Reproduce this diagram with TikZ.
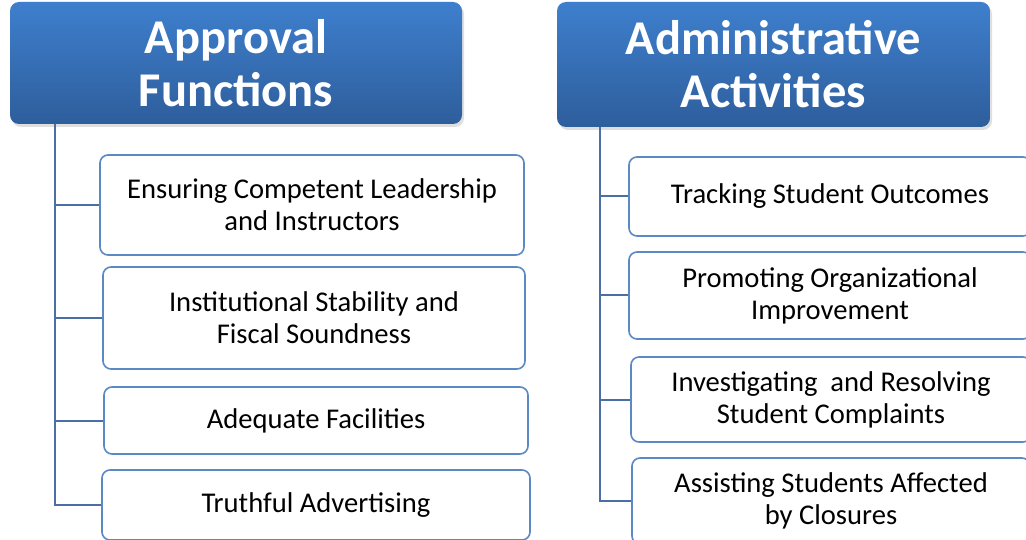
\documentclass[tikz,border=0pt]{standalone}
\usepackage{fontspec}
\setmainfont{Carlito}
\usetikzlibrary{shadows}
\definecolor{hdtop}{HTML}{3E7FCD}
\definecolor{hdbot}{HTML}{2E5E9C}
\definecolor{boxline}{HTML}{5B89C4}
\definecolor{conline}{HTML}{4A6FA5}
\tikzset{
  header/.style={rounded corners=9pt, top color=hdtop, bottom color=hdbot, draw=none,
    text=white, font=\fontsize{48.5}{53}\selectfont\bfseries, align=center, inner sep=0pt,
    drop shadow={opacity=0.25, shadow xshift=2pt, shadow yshift=-3pt}},
  item/.style={rounded corners=8pt, draw=boxline, line width=1.6pt, fill=white,
    font=\fontsize{28.6}{32}\selectfont, align=center, inner sep=0pt, text=black},
  conn/.style={draw=conline, line width=2pt}
}
\begin{document}
\begin{tikzpicture}[x=1pt,y=-1pt]
\useasboundingbox[fill=white] (0,0) rectangle (1026,540);
% left column
\node[header, minimum width=452pt, minimum height=122pt] (L0) at (236,63) {Approval\\Functions};
\node[item, minimum width=424pt, minimum height=100pt] (L1) at (312,205) {Ensuring Competent Leadership\\and Instructors};
\node[item, minimum width=422pt, minimum height=102pt] (L2) at (314,318) {Institutional Stability and\\Fiscal Soundness};
\node[item, minimum width=424pt, minimum height=67pt] (L3) at (316,420.5) {Adequate Facilities};
\node[item, minimum width=428pt, minimum height=70pt] (L4) at (316,505) {Truthful Advertising};
\coordinate (lt) at (55,124);
\draw[conn] (lt) -- (lt |- L4.west) -- (L4.west);
\draw[conn] (lt |- L1.west) -- (L1.west);
\draw[conn] (lt |- L2.west) -- (L2.west);
\draw[conn] (lt |- L3.west) -- (L3.west);
% right column
\node[header, minimum width=433pt, minimum height=125pt] (R0) at (773.5,64.5) {Administrative\\Activities};
\node[item, minimum width=402pt, minimum height=79pt] (R1) at (830,196.5) {Tracking Student Outcomes};
\node[item, minimum width=402pt, minimum height=87pt] (R2) at (830,295.5) {Promoting Organizational\\Improvement};
\node[item, minimum width=400pt, minimum height=85pt] (R3) at (831,399.5) {Investigating\ \ and Resolving\\Student Complaints};
\node[item, minimum width=398pt, minimum height=86pt] (R4) at (831,501) {Assisting Students Affected\\by Closures};
\coordinate (rt) at (600,127);
\draw[conn] (rt) -- (rt |- R4.west) -- (R4.west);
\draw[conn] (rt |- R1.west) -- (R1.west);
\draw[conn] (rt |- R2.west) -- (R2.west);
\draw[conn] (rt |- R3.west) -- (R3.west);
\end{tikzpicture}
\end{document}
